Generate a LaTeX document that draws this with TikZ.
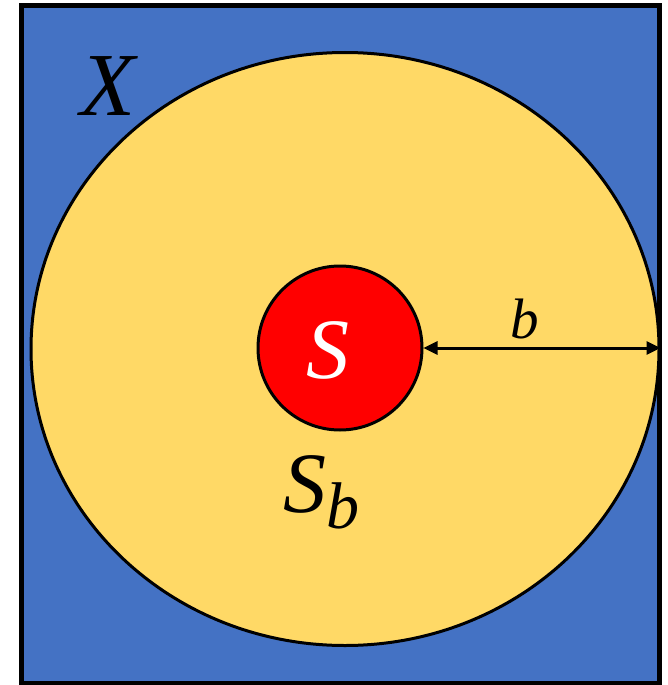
\documentclass[tikz,border=0pt]{standalone}
\usepackage{fontspec}
\setmainfont{Liberation Serif}
\usetikzlibrary{shapes.geometric,arrows.meta}
\definecolor{boxblue}{HTML}{4472C4}
\definecolor{ballyellow}{HTML}{FFD966}
\definecolor{setred}{HTML}{FF0000}
\tikzset{
  outline/.style={draw=black,line width=5pt},
  region/.style={draw=black,line width=3pt,inner sep=0pt},
  lbl/.style={inner sep=0pt,font=\itshape},
  dim/.style={line width=3pt,{Triangle[length=14pt,width=13pt]}-{Triangle[length=14pt,width=13pt]}}
}
\begin{document}
\begin{tikzpicture}[x=1pt,y=-1pt]
\useasboundingbox (0,0) rectangle (667,685);
\node[outline,fill=boxblue,rectangle,minimum width=638pt,minimum height=677pt,inner sep=0pt] (box) at (340,344.5) {};
\node[region,ellipse,fill=ballyellow,minimum width=628pt,minimum height=593pt] (sb) at (345,349) {};
\node[region,circle,fill=setred,minimum size=164pt] (s) at (340,348) {};
\node[lbl,text=white] (slabel) at (328,350) {\fontsize{86}{90}\selectfont S};
\node[lbl] (xlabel) at (108,86) {\fontsize{90}{95}\selectfont X};
\node[lbl,anchor=base west] (sblabel) at (283,512) {\fontsize{86}{90}\selectfont S\raisebox{-16pt}{\fontsize{66}{70}\selectfont b}};
\node[lbl] (blabel) at (525,319) {\fontsize{57}{62}\selectfont b};
\coordinate (arrowend) at (sb.east |- s.east);
\draw[dim] (s.east) -- (arrowend);
\end{tikzpicture}
\end{document}
